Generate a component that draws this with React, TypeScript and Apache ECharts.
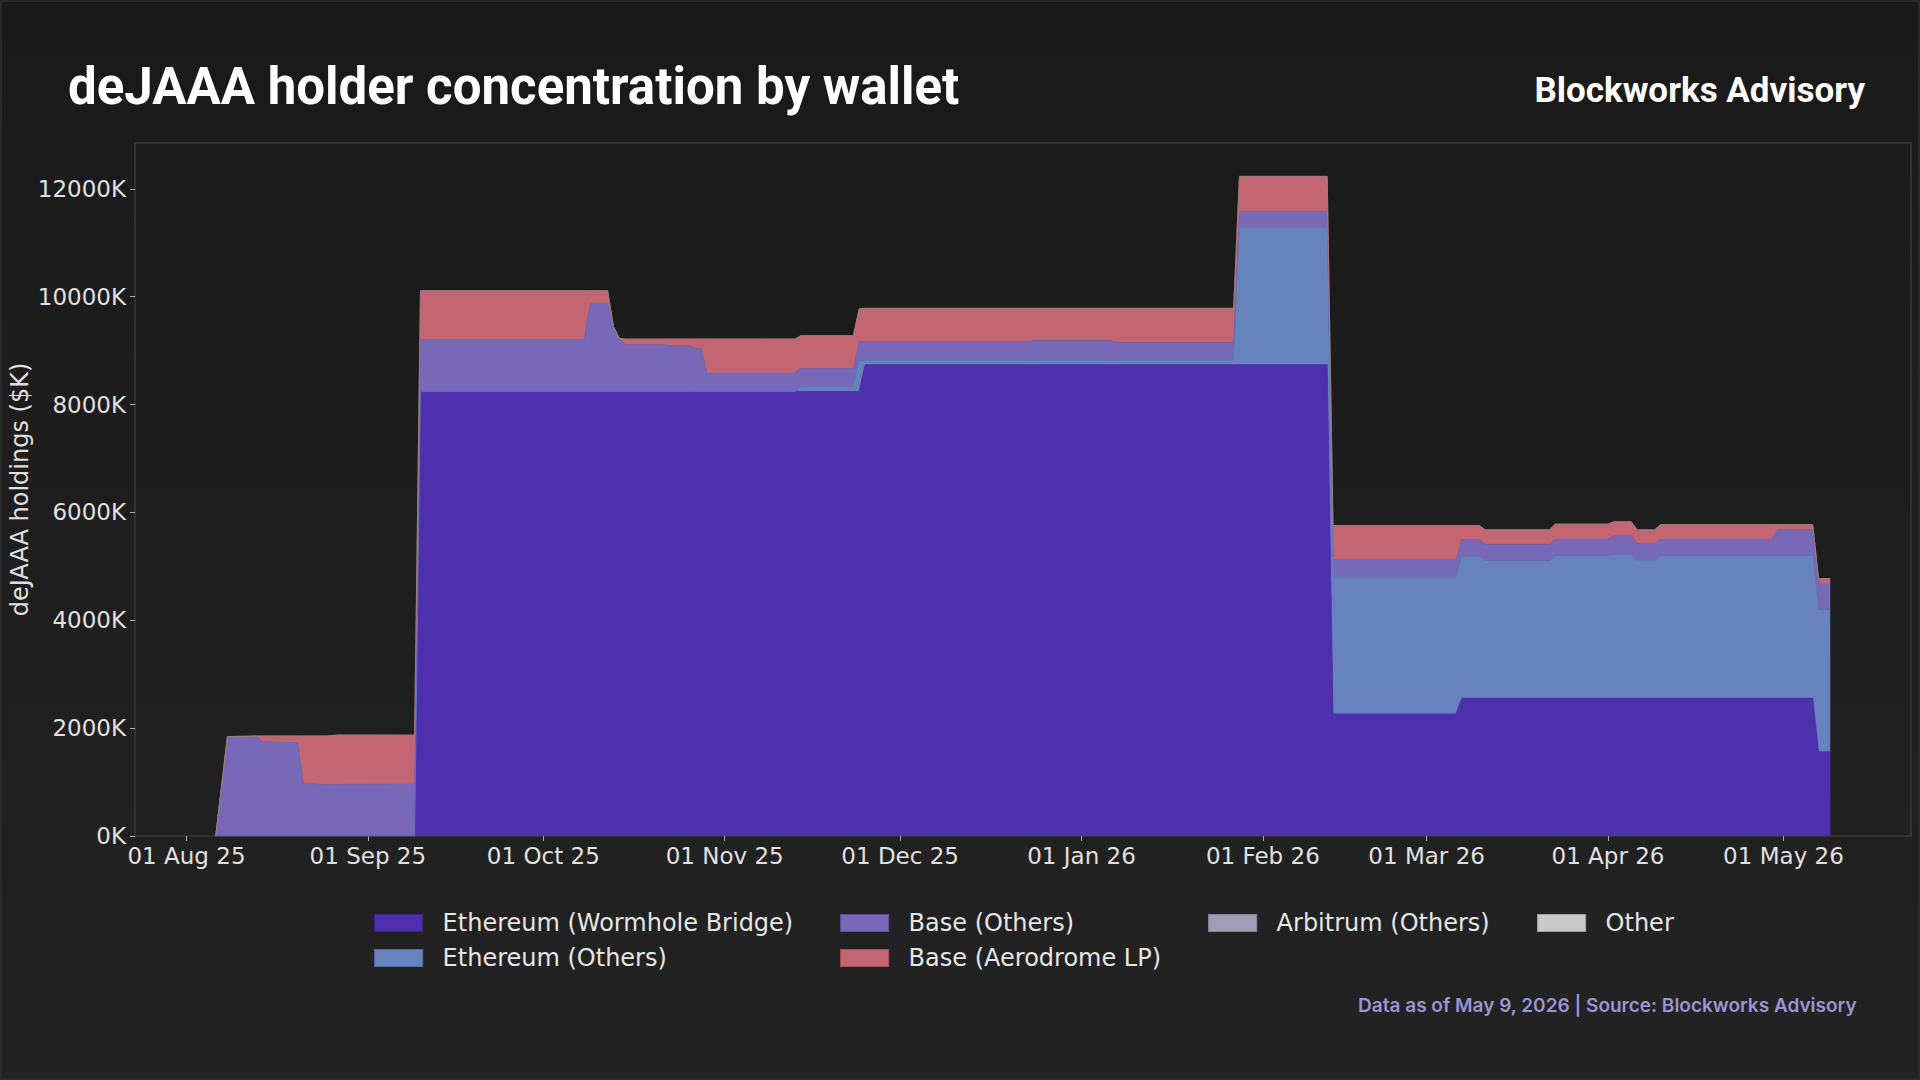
import React, { useEffect, useRef } from "react";
import * as echarts from "echarts";

// ---- Data ----
const dates = [
  "2025-08-06", "2025-08-08", "2025-08-13", "2025-08-14", "2025-08-20", "2025-08-21",
  "2025-08-25", "2025-08-27", "2025-09-09", "2025-09-10", "2025-10-08", "2025-10-09",
  "2025-10-12", "2025-10-13", "2025-10-14", "2025-10-15", "2025-10-22", "2025-10-23",
  "2025-10-26", "2025-10-27", "2025-10-28", "2025-10-29", "2025-11-13", "2025-11-14",
  "2025-11-23", "2025-11-24", "2025-11-25", "2025-12-23", "2025-12-24", "2026-01-06",
  "2026-01-07", "2026-01-27", "2026-01-28", "2026-02-12", "2026-02-13", "2026-03-06",
  "2026-03-07", "2026-03-10", "2026-03-11", "2026-03-22", "2026-03-23", "2026-04-01",
  "2026-04-02", "2026-04-05", "2026-04-06", "2026-04-09", "2026-04-10", "2026-04-29",
  "2026-04-30", "2026-05-06", "2026-05-07", "2026-05-09",
];

const wormhole = [
  0, 0, 0, 0, 0, 0,
  0, 0, 0, 8244, 8244, 8244,
  8244, 8244, 8244, 8244, 8244, 8244,
  8244, 8244, 8244, 8244, 8244, 8244,
  8244, 8244, 8738, 8738, 8738, 8738,
  8738, 8738, 8738, 8738, 2263, 2263,
  2555, 2555, 2555, 2555, 2555, 2555,
  2555, 2555, 2555, 2555, 2555, 2555,
  2555, 2555, 1560, 1560,
];

const ethOthers = [
  0, 0, 0, 0, 0, 0,
  0, 0, 0, 0, 0, 0,
  0, 0, 0, 0, 0, 0,
  0, 0, 0, 0, 0, 81,
  81, 575, 81, 81, 81, 81,
  81, 81, 2537, 2537, 2536, 2536,
  2627, 2627, 2547, 2547, 2640, 2640,
  2664, 2664, 2553, 2553, 2640, 2640,
  2640, 2640, 2633, 2633,
];

const baseOthers = [
  0, 1843, 1843, 1750, 1731, 977,
  950, 960, 965, 958, 958, 1626,
  1626, 1205, 971, 865, 865, 847,
  847, 797, 797, 340, 340, 345,
  345, 352, 352, 352, 371, 371,
  334, 334, 308, 308, 322, 322,
  310, 310, 310, 310, 310, 310,
  347, 347, 309, 309, 310, 310,
  482, 482, 480, 480,
];

const aerodrome = [
  0, 0, 12, 105, 124, 878,
  905, 912, 905, 909, 909, 241,
  241, 0, 13, 105, 105, 124,
  124, 174, 174, 631, 631, 606,
  606, 606, 614, 614, 595, 595,
  632, 632, 649, 649, 636, 636,
  265, 265, 265, 265, 278, 278,
  260, 260, 260, 260, 271, 271,
  99, 99, 100, 100,
];

const arbitrum = [
  0, 0, 0, 0, 0, 0, 0, 0, 0, 0, 0, 0, 0, 0, 0, 0, 0, 0,
  0, 0, 0, 0, 0, 0, 0, 0, 0, 0, 0, 0, 0, 0, 0, 0, 0, 0,
  0, 0, 0, 0, 0, 0, 0, 0, 0, 0, 0, 0, 0, 0, 0, 0,
];

const other = [
  0, 0, 0, 0, 0, 0, 0, 0, 0, 0, 0, 0, 0, 0, 0, 0, 0, 0,
  0, 0, 0, 0, 0, 0, 0, 0, 0, 0, 0, 0, 0, 0, 0, 0, 0, 0,
  0, 0, 0, 0, 0, 0, 0, 0, 0, 0, 0, 0, 0, 0, 0, 0,
];

const seriesNames = [
  "Ethereum (Wormhole Bridge)",
  "Ethereum (Others)",
  "Base (Others)",
  "Base (Aerodrome LP)",
  "Arbitrum (Others)",
  "Other",
];
const seriesValues = [wormhole, ethOthers, baseOthers, aerodrome, arbitrum, other];
const seriesColors = ["#4E30AF", "#6683BE", "#7869B8", "#C46672", "#A19DB6", "#C9C9C9"];
const legendBorders = ["#3A2388", "#4F6AA3", "#5E509C", "#A44F5B", "#85819A", "#9E9E9E"];

const yTicks = [0, 2000, 4000, 6000, 8000, 10000, 12000];
const monthNames = ["Jan", "Feb", "Mar", "Apr", "May", "Jun", "Jul", "Aug", "Sep", "Oct", "Nov", "Dec"];

const titleText = "deJAAA holder concentration by wallet";
const brandText = "Blockworks Advisory";
const sourceText = "Data as of May 9, 2026 | Source: Blockworks Advisory";
const yAxisTitle = "deJAAA holdings ($K)";

// legend layout: [series index, icon left x, row center y]
const legendLayout: [number, number, number][] = [
  [0, 374, 923],
  [1, 374, 958],
  [2, 840, 923],
  [3, 840, 958],
  [4, 1208, 923],
  [5, 1537, 923],
];

const DAY = 24 * 3600 * 1000;

const toTs = (s: string) => {
  const [y, m, d] = s.split("-").map(Number);
  return Date.UTC(y, m - 1, d);
};

const fmtDate = (v: number) => {
  const d = new Date(v);
  const dd = String(d.getUTCDate()).padStart(2, "0");
  const yy = String(d.getUTCFullYear()).slice(2);
  return `${dd} ${monthNames[d.getUTCMonth()]} ${yy}`;
};

const FONT = "DejaVu Sans";

export default function App() {
  const ref = useRef<HTMLDivElement>(null);

  useEffect(() => {
    if (!ref.current) return;
    const chart = echarts.init(ref.current, undefined, { renderer: "svg" });

    const t0 = toTs(dates[0]);
    const t1 = toTs(dates[dates.length - 1]);
    const pad = (t1 - t0) * 0.05;

    const series: any[] = seriesNames.map((name, i) => ({
      name,
      type: "line",
      stack: "total",
      symbol: "none",
      showSymbol: false,
      silent: true,
      emphasis: { disabled: true },
      data: dates.map((d, j) => [toTs(d), seriesValues[i][j]]),
      itemStyle: { color: seriesColors[i] },
      lineStyle:
        i === 5
          ? { width: 1, color: "rgba(140,140,140,0.7)" }
          : i === 4
          ? { width: 0 }
          : { width: 0.8, color: seriesColors[i] },
      areaStyle: { color: seriesColors[i], opacity: 1 },
      z: 2,
    }));

    const legends = legendLayout.map(([idx, x, cy]) => ({
      data: [
        {
          name: seriesNames[idx],
          itemStyle: { color: seriesColors[idx], borderColor: legendBorders[idx], borderWidth: 1.2 },
        },
      ],
      left: x,
      top: cy - 12,
      padding: 0,
      itemWidth: 48,
      itemHeight: 17,
      icon: "rect",
      selectedMode: false,
      textStyle: {
        color: "#E6E6E6",
        fontSize: 24,
        fontFamily: FONT,
        lineHeight: 24,
        padding: [0, 0, 0, 15],
      },
    }));

    chart.setOption({
      animation: false,
      useUTC: true,
      backgroundColor: "transparent",
      grid: {
        left: 135,
        top: 143,
        width: 1776,
        height: 693,
        show: true,
        borderColor: "#3A3A3A",
        borderWidth: 1.5,
        backgroundColor: "transparent",
        containLabel: false,
        outerBoundsMode: "none",
      },
      xAxis: {
        type: "time",
        min: t0 - pad,
        max: t1 + pad,
        splitNumber: 10,
        minInterval: 28 * DAY,
        maxInterval: 31 * DAY,
        axisLine: { show: false },
        splitLine: { show: false },
        axisTick: {
          show: true,
          length: 5,
          lineStyle: { color: "#AAAAAA", width: 1 },
        },
        axisLabel: {
          formatter: (v: number) => fmtDate(v),
          color: "#E0E0E0",
          fontSize: 23,
          fontFamily: FONT,
          margin: 8,
          showMinLabel: false,
          showMaxLabel: false,
          hideOverlap: false,
        },
      },
      yAxis: {
        type: "value",
        min: 0,
        max: 12850,
        axisLine: { show: false },
        splitLine: { show: false },
        axisTick: {
          show: true,
          length: 5,
          customValues: yTicks,
          lineStyle: { color: "#AAAAAA", width: 1 },
        },
        axisLabel: {
          customValues: yTicks,
          formatter: (v: number) => `${v}K`,
          color: "#E0E0E0",
          fontSize: 23,
          fontFamily: FONT,
          margin: 9,
        },
      },
      legend: legends,
      graphic: [
        {
          type: "text",
          left: 68,
          top: 61,
          style: {
            text: titleText,
            fill: "#FFFFFF",
            font: "bold 51px Roboto",
          },
        },
        {
          type: "text",
          right: 55,
          top: 73,
          style: {
            text: brandText,
            fill: "#FFFFFF",
            font: "bold 35px Roboto",
          },
        },
        {
          type: "text",
          right: 63,
          top: 996,
          style: {
            text: sourceText,
            fill: "#9D93D1",
            font: "600 19px Inter",
          },
        },
        {
          type: "text",
          x: 20,
          y: 489.5,
          rotation: Math.PI / 2,
          style: {
            text: yAxisTitle,
            fill: "#E0E0E0",
            font: `24px '${FONT}'`,
            align: "center",
            verticalAlign: "middle",
          },
        },
      ],
      series,
    });

    return () => chart.dispose();
  }, []);

  return (
    <div
      style={{
        position: "fixed",
        left: 0,
        top: 0,
        width: 1920,
        height: 1080,
        boxSizing: "border-box",
        border: "2px solid #2A2A2A",
        background: "linear-gradient(180deg, #191919 0%, #1E1E1E 50%, #232323 100%)",
        overflow: "hidden",
      }}
    >
      <div ref={ref} style={{ position: "absolute", left: -2, top: -2, width: 1920, height: 1080 }} />
    </div>
  );
}
